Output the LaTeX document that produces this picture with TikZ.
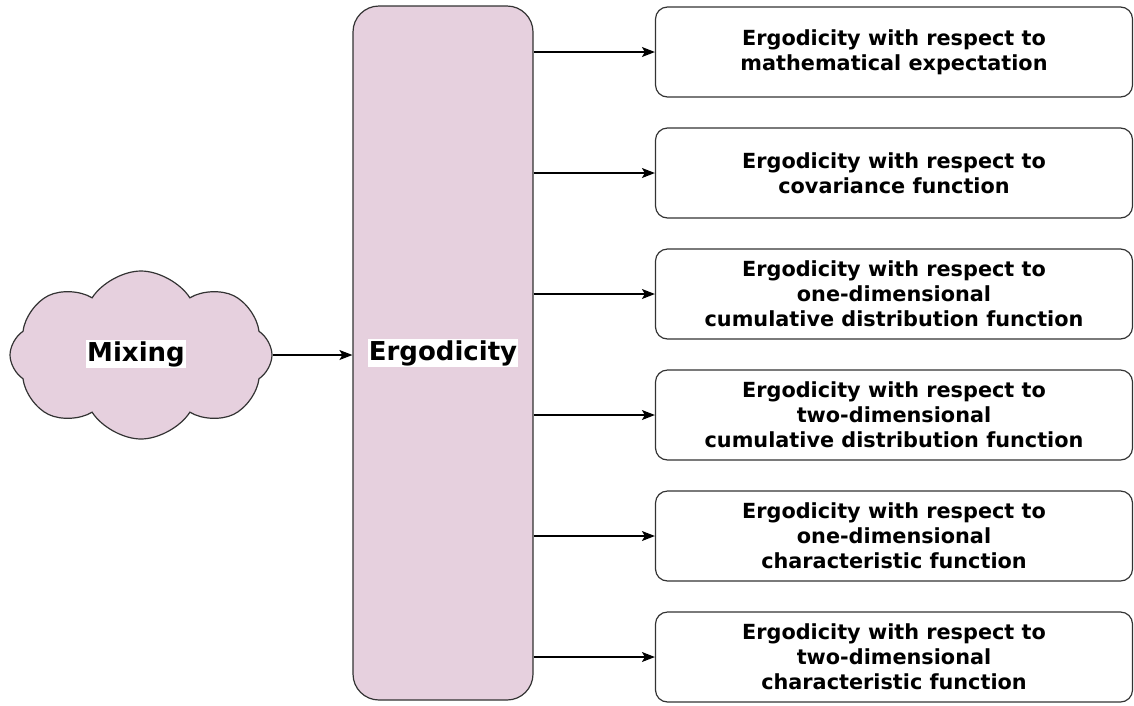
\documentclass[tikz,border=0pt]{standalone}
\usepackage{fontspec}
\setmainfont{DejaVu Sans}
\usetikzlibrary{positioning,arrows.meta,shapes.symbols}
\definecolor{mixfill}{HTML}{E6D0DE}
\definecolor{edgegray}{HTML}{333333}

\begin{document}
\begin{tikzpicture}[x=1pt, y=-1pt, node distance=121pt, on grid,
    >={Stealth[length=13pt,width=10pt,inset=3pt]},
    propbox/.style={draw=edgegray, line width=1.2pt, rounded corners=12pt,
        minimum width=477pt, minimum height=90pt, align=center,
        font=\bfseries\fontsize{20.8}{25}\selectfont},
    biglabel/.style={fill=white, inner sep=1pt,
        font=\bfseries\fontsize{26}{30}\selectfont}]

    \useasboundingbox (0,0) rectangle (1134,705);

    \node[draw=edgegray, line width=1.2pt, fill=mixfill, rounded corners=26pt,
        minimum width=180pt, minimum height=694pt] (ergo) at (443,353) {};
    \node[biglabel] (ergotext) at (ergo.center) {Ergodicity};

    \node[cloud, cloud puffs=8, cloud puff arc=115, aspect=1.55, draw=edgegray,
        line width=1.2pt, fill=mixfill, minimum width=262pt,
        minimum height=168pt] (mix) at (141,355) {};
    \node[biglabel] (mixtext) at (136,354) {Mixing};

    \node[propbox] (r1) at (894,52) {Ergodicity with respect to\\mathematical expectation};
    \node[propbox] (r2) [below=of r1] {Ergodicity with respect to\\covariance function};
    \node[propbox] (r3) [below=of r2] {Ergodicity with respect to\\one-dimensional\\cumulative distribution function};
    \node[propbox] (r4) [below=of r3] {Ergodicity with respect to\\two-dimensional\\cumulative distribution function};
    \node[propbox] (r5) [below=of r4] {Ergodicity with respect to\\one-dimensional\\characteristic function};
    \node[propbox] (r6) [below=of r5] {Ergodicity with respect to\\two-dimensional\\characteristic function};

    \draw[->, line width=1.2pt] (mix.east) -- (ergo.west |- mix.east);
    \draw[->, line width=1.2pt] (ergo.east |- r1) -- (r1.west);
    \draw[->, line width=1.2pt] (ergo.east |- r2) -- (r2.west);
    \draw[->, line width=1.2pt] (ergo.east |- r3) -- (r3.west);
    \draw[->, line width=1.2pt] (ergo.east |- r4) -- (r4.west);
    \draw[->, line width=1.2pt] (ergo.east |- r5) -- (r5.west);
    \draw[->, line width=1.2pt] (ergo.east |- r6) -- (r6.west);

\end{tikzpicture}
\end{document}
